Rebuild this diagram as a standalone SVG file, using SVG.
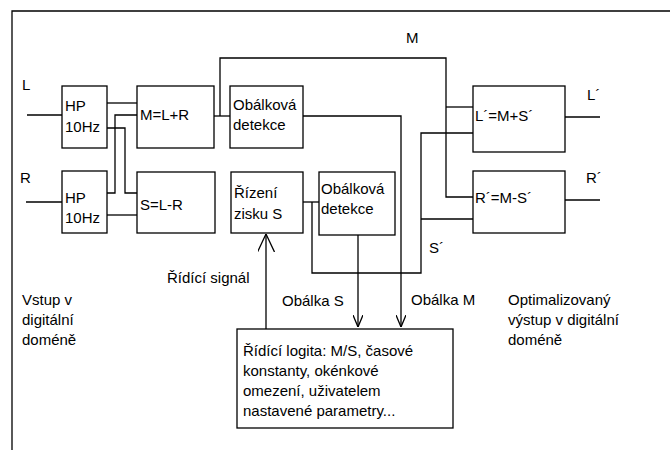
<svg xmlns="http://www.w3.org/2000/svg" width="670" height="450" viewBox="0 0 670 450">
<style>
text { font-family: "Liberation Sans", Arial, sans-serif; font-size: 15px; fill: #000; }
.box { fill: #fff; stroke: #000; stroke-width: 1.3; }
.ln { fill: none; stroke: #000; stroke-width: 1.3; }
</style>
<defs>
<marker id="ah" viewBox="0 0 12 10" refX="12" refY="5" markerWidth="12" markerHeight="10" markerUnits="userSpaceOnUse" orient="auto">
<path d="M0,0 L12,5 L0,10" fill="none" stroke="#000" stroke-width="1.3"/>
</marker>
<marker id="ahBig" viewBox="0 0 18 17" refX="18" refY="8.5" markerWidth="18" markerHeight="17" markerUnits="userSpaceOnUse" orient="auto">
<path d="M0,0 L18,8.5 L0,17" fill="none" stroke="#000" stroke-width="1.3"/>
</marker>
</defs>
<rect width="670" height="450" fill="#fff"/>
<g id="frame">
<path class="ln" d="M12,450 V11 H670"/>
</g>
<g id="connectors">
<path class="ln" d="M27,115 H62"/>
<path class="ln" d="M26,202 H62"/>
<path class="ln" d="M107,103 H137"/>
<path class="ln" d="M107,128 H125 V193 H137"/>
<path class="ln" d="M107,193 H115 V115 H137"/>
<path class="ln" d="M107,215 H137"/>
<path class="ln" d="M214,116 H230"/>
<path class="ln" d="M220,116 V58 H446 V197 H473"/>
<path class="ln" d="M446,107 H473"/>
<path class="ln" d="M303,116 H401 V327" marker-end="url(#ah)"/>
<path class="ln" d="M303,202 H319"/>
<path class="ln" d="M312,202 V273 H421 V133 H473"/>
<path class="ln" d="M421,219 H473"/>
<path class="ln" d="M358,235 V327" marker-end="url(#ah)"/>
<path class="ln" d="M266,329 V234" marker-end="url(#ahBig)"/>
<path class="ln" d="M565,117 H600"/>
<path class="ln" d="M565,200 H600"/>
</g>
<g id="hp1">
<rect class="box" x="62" y="86" width="45" height="62"/>
<text x="65" y="111">HP</text>
<text x="65" y="132">10Hz</text>
</g>
<g id="hp2">
<rect class="box" x="62" y="171" width="45" height="62"/>
<text x="65" y="203">HP</text>
<text x="65" y="223">10Hz</text>
</g>
<g id="msum">
<rect class="box" x="137" y="86" width="77" height="62"/>
<text x="140" y="120">M=L+R</text>
</g>
<g id="sdiff">
<rect class="box" x="137" y="172" width="78" height="61"/>
<text x="140" y="210">S=L-R</text>
</g>
<g id="obalkova1">
<rect class="box" x="230" y="86" width="73" height="62"/>
<text x="233" y="110">Obálková</text>
<text x="233" y="130">detekce</text>
</g>
<g id="rizeni">
<rect class="box" x="231" y="172" width="72" height="61"/>
<text x="234" y="198">Řízení</text>
<text x="234" y="219">zisku S</text>
</g>
<g id="obalkova2">
<rect class="box" x="319" y="172" width="76" height="63"/>
<text x="321" y="194">Obálková</text>
<text x="321" y="214">detekce</text>
</g>
<g id="lout">
<rect class="box" x="473" y="86" width="92" height="66"/>
<text x="475" y="121">L´=M+S´</text>
</g>
<g id="rout">
<rect class="box" x="473" y="171" width="92" height="62"/>
<text x="475" y="203">R´=M-S´</text>
</g>
<g id="logic">
<rect class="box" x="237" y="329" width="216" height="99"/>
<text x="243" y="356">Řídící logita: M/S, časové</text>
<text x="243" y="376">konstanty, okénkové</text>
<text x="243" y="396">omezení, uživatelem</text>
<text x="243" y="416">nastavené parametry...</text>
</g>
<g id="labels">
<text x="22" y="90">L</text>
<text x="20" y="183">R</text>
<text x="406" y="43">M</text>
<text x="587" y="100">L´</text>
<text x="586" y="183">R´</text>
<text x="429" y="253">S´</text>
<text x="167" y="283">Řídící signál</text>
<text x="282" y="306">Obálka S</text>
<text x="411" y="305">Obálka M</text>
<text x="22" y="305">Vstup v</text>
<text x="22" y="325">digitální</text>
<text x="22" y="345">doméně</text>
<text x="508" y="305">Optimalizovaný</text>
<text x="508" y="325">výstup v digitální</text>
<text x="508" y="345">doméně</text>
</g>
</svg>
